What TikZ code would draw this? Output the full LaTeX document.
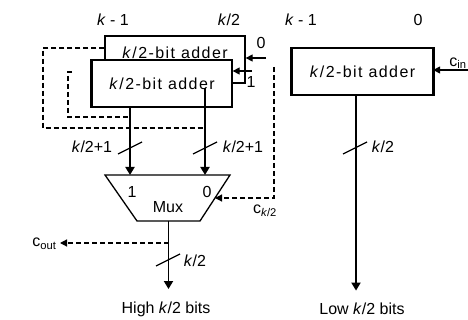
\documentclass[tikz,border=0pt]{standalone}
\usepackage{fontspec}
\setmainfont{Liberation Sans}
\usetikzlibrary{arrows.meta,calc}

\newcommand{\kk}{\textit{k}}

\begin{document}
\begin{tikzpicture}[
  x=1pt,y=-1pt,
  font=\fontsize{16}{18}\selectfont,
  adder/.style={rectangle,draw,line width=1.3pt,fill=white,minimum width=140pt,
    minimum height=47pt,inner sep=0pt,font=\fontsize{16}{18}\selectfont\addfontfeature{LetterSpace=9}},
  muxline/.style={draw,line width=1.3pt,line join=miter},
  bus/.style={line width=1.8pt,-{Triangle[length=8pt,width=9pt]}},
  wire/.style={line width=1.3pt,-{Triangle[length=7pt,width=7pt]}},
  carry/.style={line width=1.2pt,dash pattern=on 5pt off 3pt},
  tick/.style={line width=1.2pt},
  thickedge/.style={line width=2.8pt}
]
\useasboundingbox (0,0) rectangle (468,320);

% bit positions
\node (msbh) at (113,20) {\kk{} - 1};
\node (midh) at (229,20) {\kk/2};
\node (msbl) at (301,20) {\kk{} - 1};
\node (lsbl) at (418,20) {0};

% the two upper adders (carry 0 behind, carry 1 in front)
\node[adder] (badd) at (175,59.5) {};
\node[anchor=north,font=\fontsize{16}{18}\selectfont\addfontfeature{LetterSpace=9}] (baddlbl)
  at ([yshift=-8pt]badd.north) {\kk/2-bit adder};
\node[adder] (fadd) at (162,83.5) {\kk/2-bit adder};
\draw[thickedge] (fadd.north west) -- (fadd.south west);

% lower adder
\node[adder] (radd) at (362.5,71.5) {\kk/2-bit adder};
\draw[thickedge] (radd.north west) -- (radd.south west);
\draw[thickedge] (radd.north east) -- (radd.south east);

% carry inputs
\coordinate (zin) at (266,58);
\coordinate (oin) at (252,71);
\coordinate (cin) at (468,70);
\draw[wire] (zin) -- (zin -| badd.east);
\draw[wire] (oin) -- (oin -| fadd.east);
\draw[wire] (cin) -- (cin -| radd.east);
\node (zlbl) at (261,43) {0};
\node (olbl) at (251,82) {1};
\node (cinlbl) at (458,63) {c\textsubscript{in}};

% multiplexer
\coordinate (muxnw) at (105,175);
\coordinate (muxne) at (230,175);
\coordinate (muxse) at (200,221);
\coordinate (muxsw) at (137,221);
\draw[muxline] (muxnw) -- (muxne) -- (muxse) -- (muxsw) -- cycle;
\coordinate (muxs) at ($(muxsw)!0.5!(muxse)$);
\coordinate (muxe) at ($(muxne)!0.5!(muxse)$);
\node (muxlbl) at (168,207) {Mux};
\coordinate (m1) at (130,175);
\coordinate (m0) at (205,175);
\node (m1lbl) at (132,192) {1};
\node (m0lbl) at (207,192) {0};

% adder outputs into the mux
\coordinate (bout) at (205,88);
\draw[bus] (m1 |- fadd.south) -- (m1);
\draw[bus] (bout) -- (m0);
\draw[tick] (118,154) -- (142,142);
\draw[tick] (193,154) -- (217,142);
\node (w1lbl) at (92,147) {\kk/2+1};
\node (w0lbl) at (243,147) {\kk/2+1};

% carry-outs of the upper adders
\coordinate (fc) at (72,72);
\draw[carry] ([yshift=11.5pt]badd.west) -| (43,128) -- (bout |- 0,128);
\draw[carry] (fc) -- (68,72) |- (m1 |- 0,117);

% select line
\coordinate (ck) at (274,67);
\draw[carry,-{Triangle[length=7pt,width=7pt]}] (ck) |- (muxe);
\node (cklbl) at (265,211) {c\textsubscript{\kk/2}};

% high half
\node (high) at (166,309) {High \kk/2 bits};
\draw[bus,shorten >=9pt] (muxs) -- (muxs |- high.north);
\draw[tick] (156,266) -- (180,254);
\node (hilbl) at (195,261) {\kk/2};
\node[anchor=east] (cout) at (60,244) {c\textsubscript{out}};
\coordinate (co) at (muxs |- 0,243);
\draw[carry,-{Triangle[length=7pt,width=7pt]}] (co) -- (co -| cout.east);

% low half
\node (low) at (362,309) {Low \kk/2 bits};
\coordinate (lo) at ([xshift=-6.5pt]radd.south);
\draw[bus,shorten >=9pt] (lo) -- (lo |- low.north);
\draw[tick] (343,154) -- (367,142);
\node (lolbl) at (383,147) {\kk/2};
\end{tikzpicture}
\end{document}
